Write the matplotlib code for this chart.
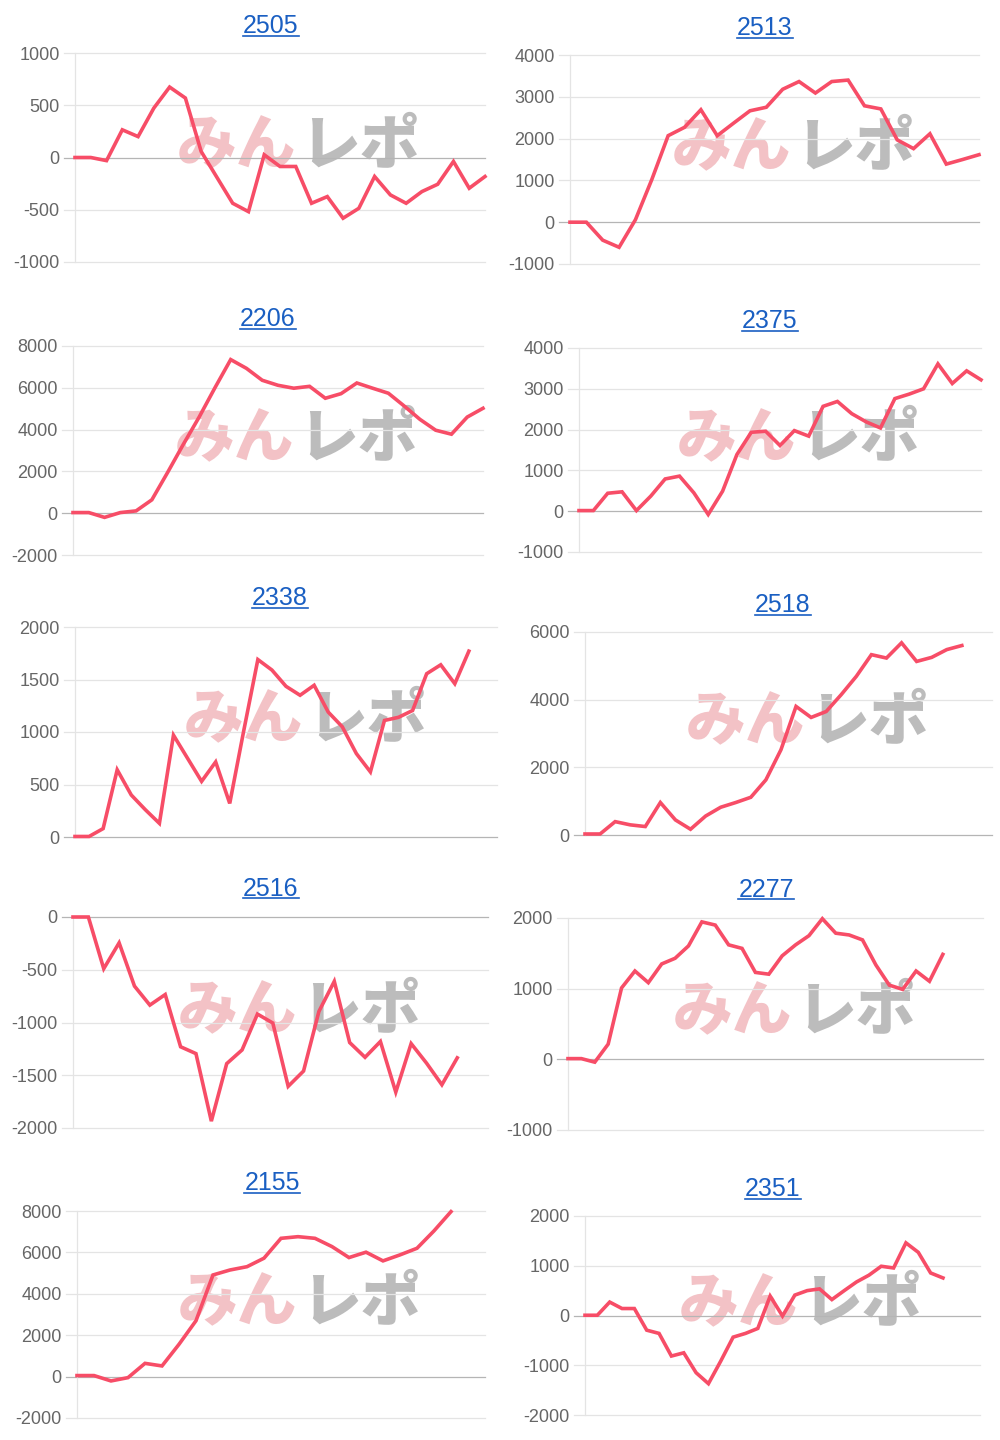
import matplotlib
matplotlib.use("Agg")
import matplotlib.pyplot as plt
from matplotlib.lines import Line2D
import numpy as np

plt.rcParams['font.family'] = ['Liberation Sans', 'DejaVu Sans']

# machine numbers (panel titles)
names = ["2505", "2513", "2206", "2375", "2338", "2518", "2516", "2277", "2155", "2351"]

# values
s2505 = [0, 0, -30, 265, 200, 473, 674, 569, 58, -190, -438, -518, 26, -86, -86,
         -438, -374, -581, -486, -182, -358, -438, -326, -256, -38, -294, -182]
s2513 = [0, 0, -430, -600, 60, 1020, 2070, 2270, 2690, 2070, 2370, 2665, 2750,
         3180, 3365, 3090, 3365, 3400, 2785, 2710, 1970, 1760, 2115, 1390, 1500, 1615]
s2206 = [30, 30, -200, 30, 110, 640, 1950, 3300, 4600, 6000, 7350, 6930, 6360,
         6120, 5980, 6070, 5500, 5720, 6230, 5980, 5740, 5130, 4490, 3970, 3780, 4600, 5020]
s2375 = [15, 15, 440, 475, 15, 370, 790, 860, 450, -80, 490, 1390, 1935, 1960, 1610,
         1975, 1840, 2570, 2690, 2390, 2190, 2040, 2760, 2870, 3000, 3610, 3130, 3440, 3220]
s2338 = [5, 5, 80, 640, 400, 260, 130, 970, 750, 530, 715, 320, 1015, 1690, 1590,
         1435, 1350, 1445, 1190, 1050, 795, 620, 1110, 1140, 1205, 1555, 1640, 1460, 1770]
s2518 = [30, 30, 395, 300, 250, 960, 445, 170, 560, 820, 960, 1115, 1630, 2520,
         3800, 3475, 3650, 4150, 4690, 5330, 5230, 5680, 5130, 5250, 5480, 5600]
s2516 = [0, 0, -490, -245, -655, -835, -735, -1230, -1295, -1935, -1390, -1260, -920,
         -1005, -1605, -1460, -895, -610, -1190, -1330, -1180, -1660, -1200, -1385, -1590, -1335]
s2277 = [10, 10, -40, 215, 1010, 1250, 1085, 1350, 1430, 1605, 1945, 1900, 1620, 1570,
         1230, 1205, 1465, 1620, 1750, 1990, 1785, 1760, 1690, 1335, 1050, 990, 1250, 1105, 1485]
s2155 = [50, 50, -210, -50, 640, 515, 1560, 2700, 4910, 5150, 5310, 5720, 6680, 6760,
         6680, 6280, 5750, 6010, 5590, 5880, 6200, 7040, 7970]
s2351 = [5, 5, 270, 140, 140, -295, -360, -815, -750, -1150, -1370, -915, -435, -360,
         -260, 390, -10, 410, 500, 535, 320, 500, 675, 810, 990, 955, 1460, 1270, 855, 755]

series = [s2505, s2513, s2206, s2375, s2338, s2518, s2516, s2277, s2155, s2351]
# number of x slots on each chart
slots = [27, 26, 27, 29, 31, 28, 28, 32, 25, 33]
# y axis: min, max, step
yranges = [(-1000, 1000, 500), (-1000, 4000, 1000), (-2000, 8000, 2000), (-1000, 4000, 1000),
           (0, 2000, 500), (0, 6000, 2000), (-2000, 0, 500), (-1000, 2000, 1000),
           (-2000, 8000, 2000), (-2000, 2000, 1000)]

W, H = 1000, 1440
# plot areas in pixels: left, top, right, bottom
boxes = [(75, 53, 485, 262), (570, 55, 979, 264), (73, 346, 483, 555), (579, 348, 981, 552),
         (75, 627, 497, 837), (585, 632, 992, 835), (73, 917, 488, 1128), (568, 918, 983, 1130),
         (77, 1211, 485, 1418), (585, 1216, 980, 1415)]
title_pos = [(271, 25), (765, 27), (268, 318), (770, 320), (280, 597), (783, 604),
             (271, 888), (766, 889), (272, 1182), (773, 1188)]

LINE = '#f74d67'
GRID = '#e4e4e4'
ZERO = '#b5b5b5'
LINK = '#1a5fc2'
CJK = ['Noto Sans CJK JP', 'DejaVu Sans']

fig = plt.figure(figsize=(W / 100, H / 100), dpi=100)
titles = []

for i, name in enumerate(names):
    l, t, r, b = boxes[i]
    ax = fig.add_axes([l / W, 1 - b / H, (r - l) / W, (b - t) / H])
    lo, hi, step = yranges[i]
    vals = series[i]

    ax.set_xlim(0, slots[i] - 1)
    ax.set_ylim(lo, hi)
    ticks = np.arange(lo, hi + 1, step)
    ax.set_yticks(ticks)
    ax.set_yticklabels([str(v) for v in ticks])
    ax.set_xticks([])
    for sp in ['top', 'right', 'bottom']:
        ax.spines[sp].set_visible(False)
    ax.spines['left'].set_color(GRID)
    ax.spines['left'].set_linewidth(0.9)
    ax.spines['left'].set_zorder(0.6)
    ax.tick_params(axis='y', length=0, pad=11, labelsize=13, labelcolor='#666666')

    # grid lines with the little tick extension on the left
    ext = -11 / (r - l)
    for v in ticks:
        c = ZERO if v == 0 else GRID
        ax.plot([ext, 1], [v, v], color=c, lw=0.9, transform=ax.get_yaxis_transform(),
                clip_on=False, zorder=0.5)

    # watermark
    ax.text(0.54, 0.555, "みん", transform=ax.transAxes, ha='right', va='center',
            fontsize=43, fontweight='heavy', color='#f3c2c6', zorder=0.2, family=CJK)
    ax.text(0.55, 0.555, "レポ", transform=ax.transAxes, ha='left', va='center',
            fontsize=43, fontweight='heavy', color='#bcbcbc', zorder=0.2, family=CJK)

    ax.plot(np.arange(len(vals)), vals, color=LINE, lw=2.6, solid_joinstyle='miter',
            clip_on=False, zorder=3)

    tx, ty = title_pos[i]
    titles.append(fig.text(tx / W, 1 - (ty + 8) / H, name, ha='center', va='baseline',
                           fontsize=18, color=LINK))

# underline the titles like links
fig.canvas.draw()
renderer = fig.canvas.get_renderer()
for i, txt in enumerate(titles):
    bb = txt.get_window_extent(renderer)
    ty = title_pos[i][1] + 10.5
    fig.add_artist(Line2D([bb.x0 / W, bb.x1 / W], [1 - ty / H, 1 - ty / H],
                          color=LINK, lw=1.2, transform=fig.transFigure))

fig.savefig("out.png", dpi=100, facecolor='white')
